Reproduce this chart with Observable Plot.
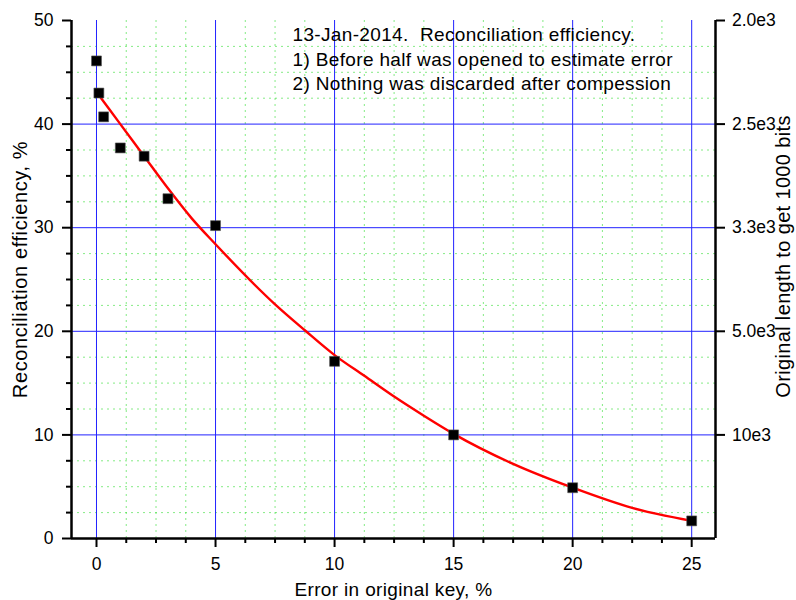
<!DOCTYPE html>
<html>
<head>
<meta charset="utf-8">
<script src="https://cdn.jsdelivr.net/npm/d3@7"></script>
<script src="https://cdn.jsdelivr.net/npm/@observablehq/plot@0.6"></script>
<style>
  html, body { margin: 0; padding: 0; background: #fff; }
  svg text { font-family: "Liberation Sans", Arial, sans-serif; }
  .wide text { letter-spacing: 0.35px; }
  .wider text { letter-spacing: 0.6px; }
</style>
</head>
<body>
<div id="chart"></div>
<script>
// Measured data points: error in original key (%) vs reconciliation efficiency (%)
const errorPct = [0, 0.1, 0.3, 1, 2, 3, 5, 10, 15, 20, 25];
const efficiency = [46.1, 43.0, 40.7, 37.7, 36.9, 32.8, 30.2, 17.1, 10.0, 4.9, 1.7];

// Red fit curve
const fitX = [0, 1, 2, 3, 4, 5, 7.5, 8.75, 10, 11.25, 12.5, 13.75, 15, 17.5, 20, 22.5, 25];
const fitY = [43.1, 40.0, 36.9, 33.8, 30.9, 28.4, 22.6, 20.1, 17.7, 15.7, 13.7, 11.85, 10.1, 7.2, 4.9, 2.95, 1.7];

// Ticks
const xMajor = [0, 5, 10, 15, 20, 25];
const xMinor = [1.25, 2.5, 3.75, 6.25, 7.5, 8.75, 11.25, 12.5, 13.75, 16.25, 17.5, 18.75, 21.25, 22.5, 23.75];
const yMajor = [0, 10, 20, 30, 40, 50];
const yMinor = [2.5, 5, 7.5, 12.5, 15, 17.5, 22.5, 25, 27.5, 32.5, 35, 37.5, 42.5, 45, 47.5];
const yGrid = [10, 20, 30, 40];
const rightTicks = [10, 20, 30, 40, 50];
const rightLabels = ["10e3", "5.0e3", "3.3e3", "2.5e3", "2.0e3"];

const xTitle = "Error in original key, %";
const yTitle = "Reconciliation efficiency, %";
const y2Title = "Original length to get 1000 bits";
const annotation = [
  "13-Jan-2014.\u00a0 Reconciliation efficiency.",
  "1) Before half was opened to estimate error",
  "2) Nothing was discarded after compession"
];

const xDomain = [-1.05, 26];
const yDomain = [0, 50];

const measured = errorPct.map((x, i) => ({x, y: efficiency[i]}));
const fit = fitX.map((x, i) => ({x, y: fitY[i]}));

const tickFont = 17.5;
const titleFont = 19;

const chart = Plot.plot({
  width: 796,
  height: 600,
  marginLeft: 71,
  marginRight: 81,
  marginTop: 20,
  marginBottom: 62,
  style: {fontFamily: "Liberation Sans, Arial, sans-serif", background: "#fff", color: "#000"},
  x: {domain: xDomain, axis: null},
  y: {domain: yDomain, axis: null},
  marks: [
    // minor dotted green grid
    Plot.ruleX(xMinor, {stroke: "#33dd33", strokeOpacity: 0.6, strokeWidth: 1, strokeDasharray: "2,4"}),
    Plot.ruleY(yMinor, {stroke: "#33dd33", strokeOpacity: 0.6, strokeWidth: 1, strokeDasharray: "2,4"}),
    // major blue grid
    Plot.ruleX(xMajor, {stroke: "#2222ff", strokeWidth: 1}),
    Plot.ruleY(yGrid, {stroke: "#2222ff", strokeWidth: 1}),
    // fit curve
    Plot.line(fit, {x: "x", y: "y", stroke: "#ff0000", strokeWidth: 2.4, curve: "monotone-x"}),
    // measured points
    Plot.dot(measured, {x: "x", y: "y", symbol: "square", r: 5.6, fill: "#000", stroke: "#555", strokeWidth: 0.6}),
    // axes ticks
    Plot.axisX(xMajor, {anchor: "bottom", tickSize: 9, tickPadding: 10, strokeWidth: 2, fontSize: tickFont, label: null, tickFormat: d => String(d)}),
    Plot.axisX(xMinor, {anchor: "bottom", tickSize: 5, strokeWidth: 2, label: null, tickFormat: () => ""}),
    Plot.axisY(yMajor, {anchor: "left", tickSize: 9, tickPadding: 9, strokeWidth: 2, fontSize: tickFont, label: null, tickFormat: d => String(d)}),
    Plot.axisY(yMinor, {anchor: "left", tickSize: 5, strokeWidth: 2, label: null, tickFormat: () => ""}),
    Plot.axisY(rightTicks, {anchor: "right", tickSize: 9, tickPadding: 7.5, strokeWidth: 2, fontSize: tickFont, label: null, tickFormat: d => rightLabels[rightTicks.indexOf(d)]}),
    // axis lines
    Plot.ruleX([xDomain[0]], {stroke: "#000", strokeWidth: 2.5}),
    Plot.ruleX([xDomain[1]], {stroke: "#000", strokeWidth: 2.5}),
    Plot.ruleY([yDomain[0]], {x1: xDomain[0], x2: xDomain[1], stroke: "#000", strokeWidth: 2.5}),
    // axis titles
    Plot.text([xTitle], {frameAnchor: "bottom", dy: 57, textAnchor: "middle", fontSize: titleFont, fill: "#000", className: "wide"}),
    Plot.text([yTitle], {frameAnchor: "left", dx: -50.5, dy: -10, rotate: -90, textAnchor: "middle", fontSize: 20, fill: "#000", className: "wider"}),
    Plot.text([y2Title], {frameAnchor: "right", dx: 68.5, dy: -23, rotate: -90, textAnchor: "middle", fontSize: 20, fill: "#000", className: "wide"}),
    // annotation
    Plot.text([annotation.join("\n")], {frameAnchor: "top-left", dx: 221, dy: 3.5, textAnchor: "start", lineAnchor: "top", lineHeight: 1.29, fontSize: titleFont, fill: "#000", className: "wide"})
  ]
});

document.getElementById("chart").appendChild(chart);
</script>
</body>
</html>
